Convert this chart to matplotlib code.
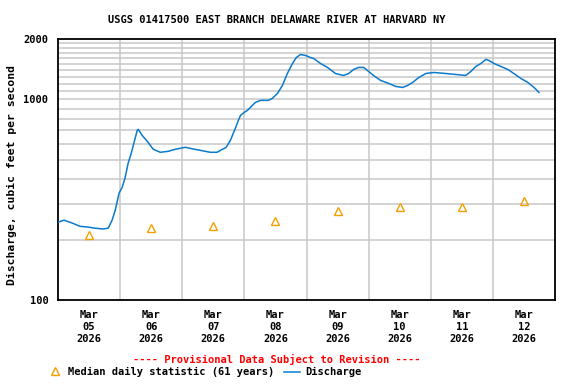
import numpy as np
import pandas as pd
import matplotlib
matplotlib.use('Agg')
import matplotlib.pyplot as plt
import matplotlib.dates as mdates
from matplotlib.ticker import FixedLocator, NullFormatter

plt.rcParams['font.family'] = 'DejaVu Sans Mono'
plt.rcParams['font.weight'] = 'bold'

# discharge, hours after 2026-03-05 00:00 and cfs
q_hours = [0, 2.3, 5.4, 8.5, 11.6, 14.3, 17.4, 19.4, 20.9, 22.1, 23.6, 24.8, 25.9,
           27.1, 28.3, 29.4, 30.6, 31.0, 32.5, 34.8, 36.8, 39.5, 42.6, 45.3, 49.2,
           51.1, 55.0, 58.8, 61.5, 63.5, 65.0, 66.6, 68.5, 69.7, 70.5, 72.0, 73.2,
           75.1, 76.3, 78.2, 81.3, 82.8, 84.8, 86.7, 88.6, 90.6, 92.1, 93.7, 95.6,
           97.5, 98.7, 101.4, 104.1, 107.2, 110.3, 112.3, 114.2, 116.1, 118.1, 120.0,
           121.9, 124.6, 127.7, 130.5, 133.2, 135.1, 137.0, 139.4, 142.1, 145.2,
           149.8, 153.7, 157.5, 159.5, 161.4, 163.4, 165.3, 166.5, 168.4, 171.1,
           173.8, 176.1, 178.8, 181.5, 183.9, 185.8]
q_cfs = [244, 250, 242, 233, 231, 228, 226, 228, 250, 280, 341, 365, 405, 481, 539,
         611, 701, 709, 662, 611, 564, 545, 551, 564, 577, 570, 557, 545, 545, 564,
         577, 625, 717, 787, 832, 862, 882, 934, 966, 989, 989, 1012, 1071, 1174,
         1346, 1511, 1618, 1674, 1656, 1618, 1600, 1511, 1443, 1346, 1316, 1346,
         1410, 1443, 1443, 1378, 1316, 1244, 1202, 1160, 1147, 1174, 1215, 1286,
         1346, 1362, 1346, 1331, 1316, 1378, 1459, 1511, 1582, 1563, 1511, 1459,
         1410, 1346, 1272, 1215, 1147, 1084]

# median daily statistic (61 years), one per day at noon
med_days = ['2026-03-05', '2026-03-06', '2026-03-07', '2026-03-08',
            '2026-03-09', '2026-03-10', '2026-03-11', '2026-03-12']
med_cfs = [211, 228, 235, 247, 277, 290, 290, 313]

t0 = pd.Timestamp('2026-03-05 00:00')
q_time = t0 + pd.to_timedelta(q_hours, unit='h')
med_time = pd.to_datetime(med_days) + pd.Timedelta(hours=12)

fig = plt.figure(figsize=(5.76, 3.84), dpi=100)
ax = fig.add_axes([58/576, 84/384, 497/576, 261/384])

ax.plot(q_time, q_cfs, color='#0a7acc', lw=1.1, zorder=3)
ax.plot(med_time, med_cfs, ls='none', marker='^', ms=6, mfc='none',
        mec='#f5a000', mew=1.0, zorder=4)

ax.set_yscale('log')
ax.set_ylim(100, 2000)
ax.set_xlim(t0, t0 + pd.Timedelta(days=8))

ax.yaxis.set_major_locator(FixedLocator([100, 1000, 2000]))
ax.yaxis.set_minor_locator(FixedLocator(list(range(200, 1000, 100)) + list(range(1100, 2000, 100))))
ax.yaxis.set_major_formatter(plt.FuncFormatter(lambda v, p: '%d' % v))
ax.yaxis.set_minor_formatter(NullFormatter())
ax.grid(True, which='minor', axis='y', color='#c8c8c8', lw=1.1)
ax.axhline(1000, color='#c8c8c8', lw=1.1, zorder=1)

days = pd.date_range('2026-03-06', '2026-03-12', freq='D')
for d in days:
    ax.axvline(d, color='#c8c8c8', lw=1.1, zorder=1)

ax.set_xticks(med_time)
ax.set_xticklabels([t.strftime('%b\n%d\n%Y') for t in med_time], linespacing=1.25)
ax.tick_params(axis='both', which='both', length=0, labelsize=7.5)
ax.tick_params(axis='x', pad=7)
ax.tick_params(axis='y', pad=7)

for s in ax.spines.values():
    s.set_linewidth(1.3)

fig.text(277/576, 1 - 20/384, 'USGS 01417500 EAST BRANCH DELAWARE RIVER AT HARVARD NY',
         ha='center', va='center', fontsize=7.5)
fig.text(12/576, 1 - 175/384, 'Discharge, cubic feet per second', rotation=90,
         ha='center', va='center', fontsize=8.2)
fig.text(277/576, 1 - 359/384, '---- Provisional Data Subject to Revision ----',
         ha='center', va='center', fontsize=7.5, color='red')

# legend row
fig.text(68/576, 1 - 372/384, 'Median daily statistic (61 years)', ha='left', va='center', fontsize=7.5)
fig.text(305/576, 1 - 372/384, 'Discharge', ha='left', va='center', fontsize=7.5)
fig.lines.append(plt.Line2D([55/576], [1 - 371/384], marker='^', ms=6, mfc='none',
                            mec='#f5a000', mew=1.0, transform=fig.transFigure))
fig.lines.append(plt.Line2D([284/576, 300/576], [1 - 372/384, 1 - 372/384],
                            color='#0a7acc', lw=1.1, transform=fig.transFigure))

fig.savefig('out.png', dpi=100)
